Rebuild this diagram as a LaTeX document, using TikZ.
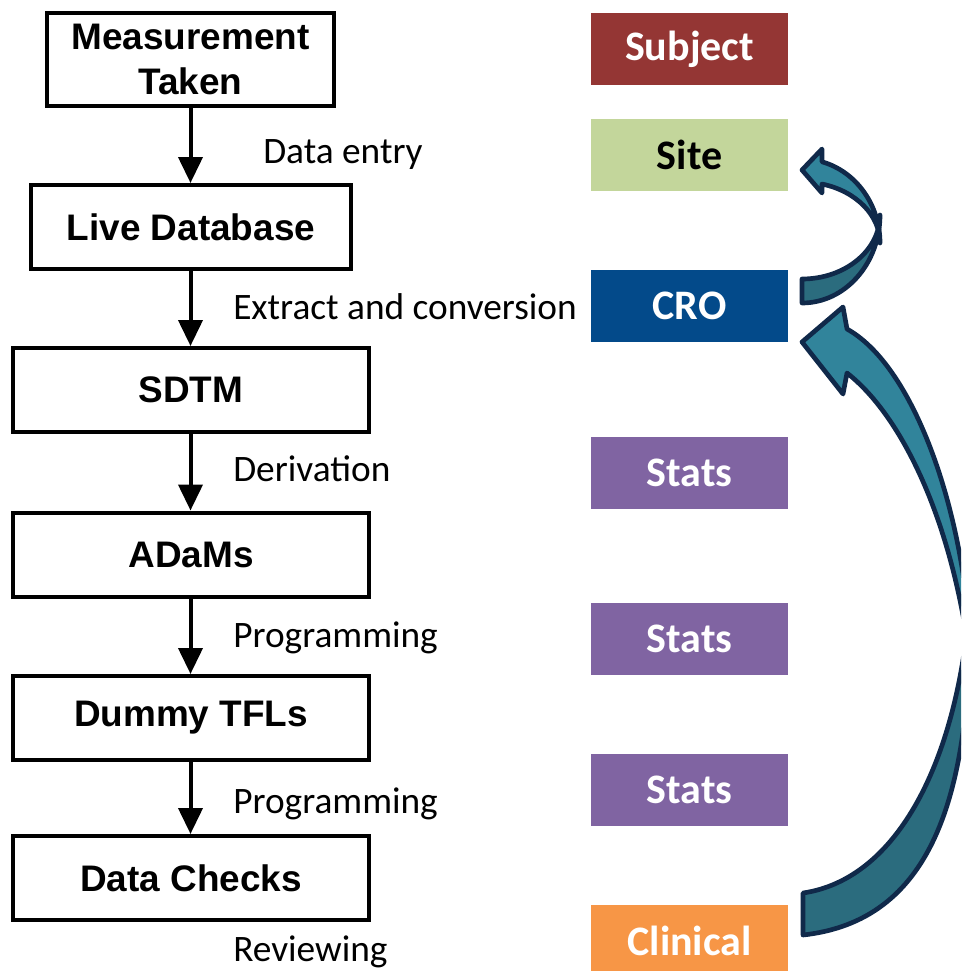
\documentclass[tikz,border=0pt]{standalone}
\usepackage{fontspec}
\setmainfont{Carlito}
\newfontfamily\boxfont{Liberation Sans}
\usetikzlibrary{arrows.meta}

\definecolor{subjectred}{HTML}{943634}
\definecolor{sitegreen}{HTML}{C3D69B}
\definecolor{croblue}{HTML}{034A8A}
\definecolor{statspurple}{HTML}{8064A2}
\definecolor{clinicalorange}{HTML}{F79646}
\definecolor{tealfront}{HTML}{31849B}
\definecolor{tealback}{HTML}{2B6C7E}
\definecolor{arrowline}{HTML}{10294A}

\tikzset{
  flowbox/.style={draw=black, line width=3pt, fill=white, inner sep=0pt,
    align=center, minimum height=63pt,
    font=\boxfont\bfseries\fontsize{27.7}{33.75}\selectfont},
  rolebox/.style={fill=#1, inner sep=0pt, minimum width=147.75pt,
    minimum height=54pt, text=white,
    font=\bfseries\fontsize{31.5}{36}\selectfont},
  steplabel/.style={anchor=base west, inner sep=0pt,
    font=\fontsize{28}{34}\selectfont},
  flow/.style={line width=3pt, -{Triangle[length=19.5pt,width=18pt]}},
  blockarrow/.style={draw=arrowline, line width=3.5pt, line join=round},
}

\begin{document}
\begin{tikzpicture}[x=0.75pt, y=-0.75pt]
\useasboundingbox (0,0) rectangle (961,971);
\begin{scope}
\clip (0,0) rectangle (961,971);

% process steps
\node[flowbox, minimum width=215.25pt, minimum height=69.75pt] (meas) at (190.5,59.5) {Measurement\\Taken};
\node[flowbox, minimum width=240pt] (live) at (191,227) {Live Database};
\node[flowbox, minimum width=267pt] (sdtm) at (191,390) {SDTM};
\node[flowbox, minimum width=267pt] (adams) at (191,554.5) {ADaMs};
\node[flowbox, minimum width=267pt] (tfl) at (191,718) {Dummy TFLs};
\node[flowbox, minimum width=267pt] (checks) at (191,878) {Data Checks};

% connectors between steps
\draw[flow] (meas.south) -- (meas.south |- live.north);
\draw[flow] (meas.south |- live.south) -- (meas.south |- sdtm.north);
\draw[flow] (meas.south |- sdtm.south) -- (meas.south |- adams.north);
\draw[flow] (meas.south |- adams.south) -- (meas.south |- tfl.north);
\draw[flow] (meas.south |- tfl.south) -- (meas.south |- checks.north);

% step labels
\node[steplabel] (l1) at (263,163) {Data entry};
\node[steplabel] (l2) at (233,319) {Extract and conversion};
\node[steplabel] (l3) at (233,481) {Derivation};
\node[steplabel] (l4) at (233,647) {Programming};
\node[steplabel] (l5) at (233,813) {Programming};
\node[steplabel] (l6) at (233,961) {Reviewing};

% responsible parties
\node[rolebox=subjectred] (subject) at (689.5,49) {Subject};
\node[rolebox=sitegreen, text=black] (site) at (689.5,155) {Site};
\node[rolebox=croblue] (cro) at (689.5,306) {CRO};
\node[rolebox=statspurple] (stats1) at (689.5,473) {Stats};
\node[rolebox=statspurple] (stats2) at (689.5,639) {Stats};
\node[rolebox=statspurple] (stats3) at (689.5,790) {Stats};
\node[rolebox=clinicalorange] (clinical) at (689.5,941) {Clinical};

% curved block arrow: CRO back to Site
\filldraw[blockarrow, fill=tealback] (802,279)
  arc[start angle=90, end angle=0, x radius=78, y radius=64]
  arc[start angle=0, end angle=90, x radius=78, y radius=88] -- cycle;
\filldraw[blockarrow, fill=tealfront] (802,170) -- (822,149) -- (822,161.8)
  arc[start angle=-75.14, end angle=0, x radius=78, y radius=84]
  arc[start angle=0, end angle=-75.14, x radius=78, y radius=61]
  -- (822,193) -- cycle;

% curved block arrow: Clinical back to CRO
\filldraw[blockarrow, fill=tealback] (803,893)
  .. controls (898,879) and (958,760) .. (970,600)
  .. controls (972,800) and (930,921) .. (803,935) -- cycle;
\filldraw[blockarrow, fill=tealfront] (802,342) -- (843,307) -- (847,329)
  .. controls (922,371) and (970,540) .. (970,660)
  .. controls (952,520) and (902,416) .. (847,373)
  -- (843,394) -- cycle;
\end{scope}
\end{tikzpicture}
\end{document}
